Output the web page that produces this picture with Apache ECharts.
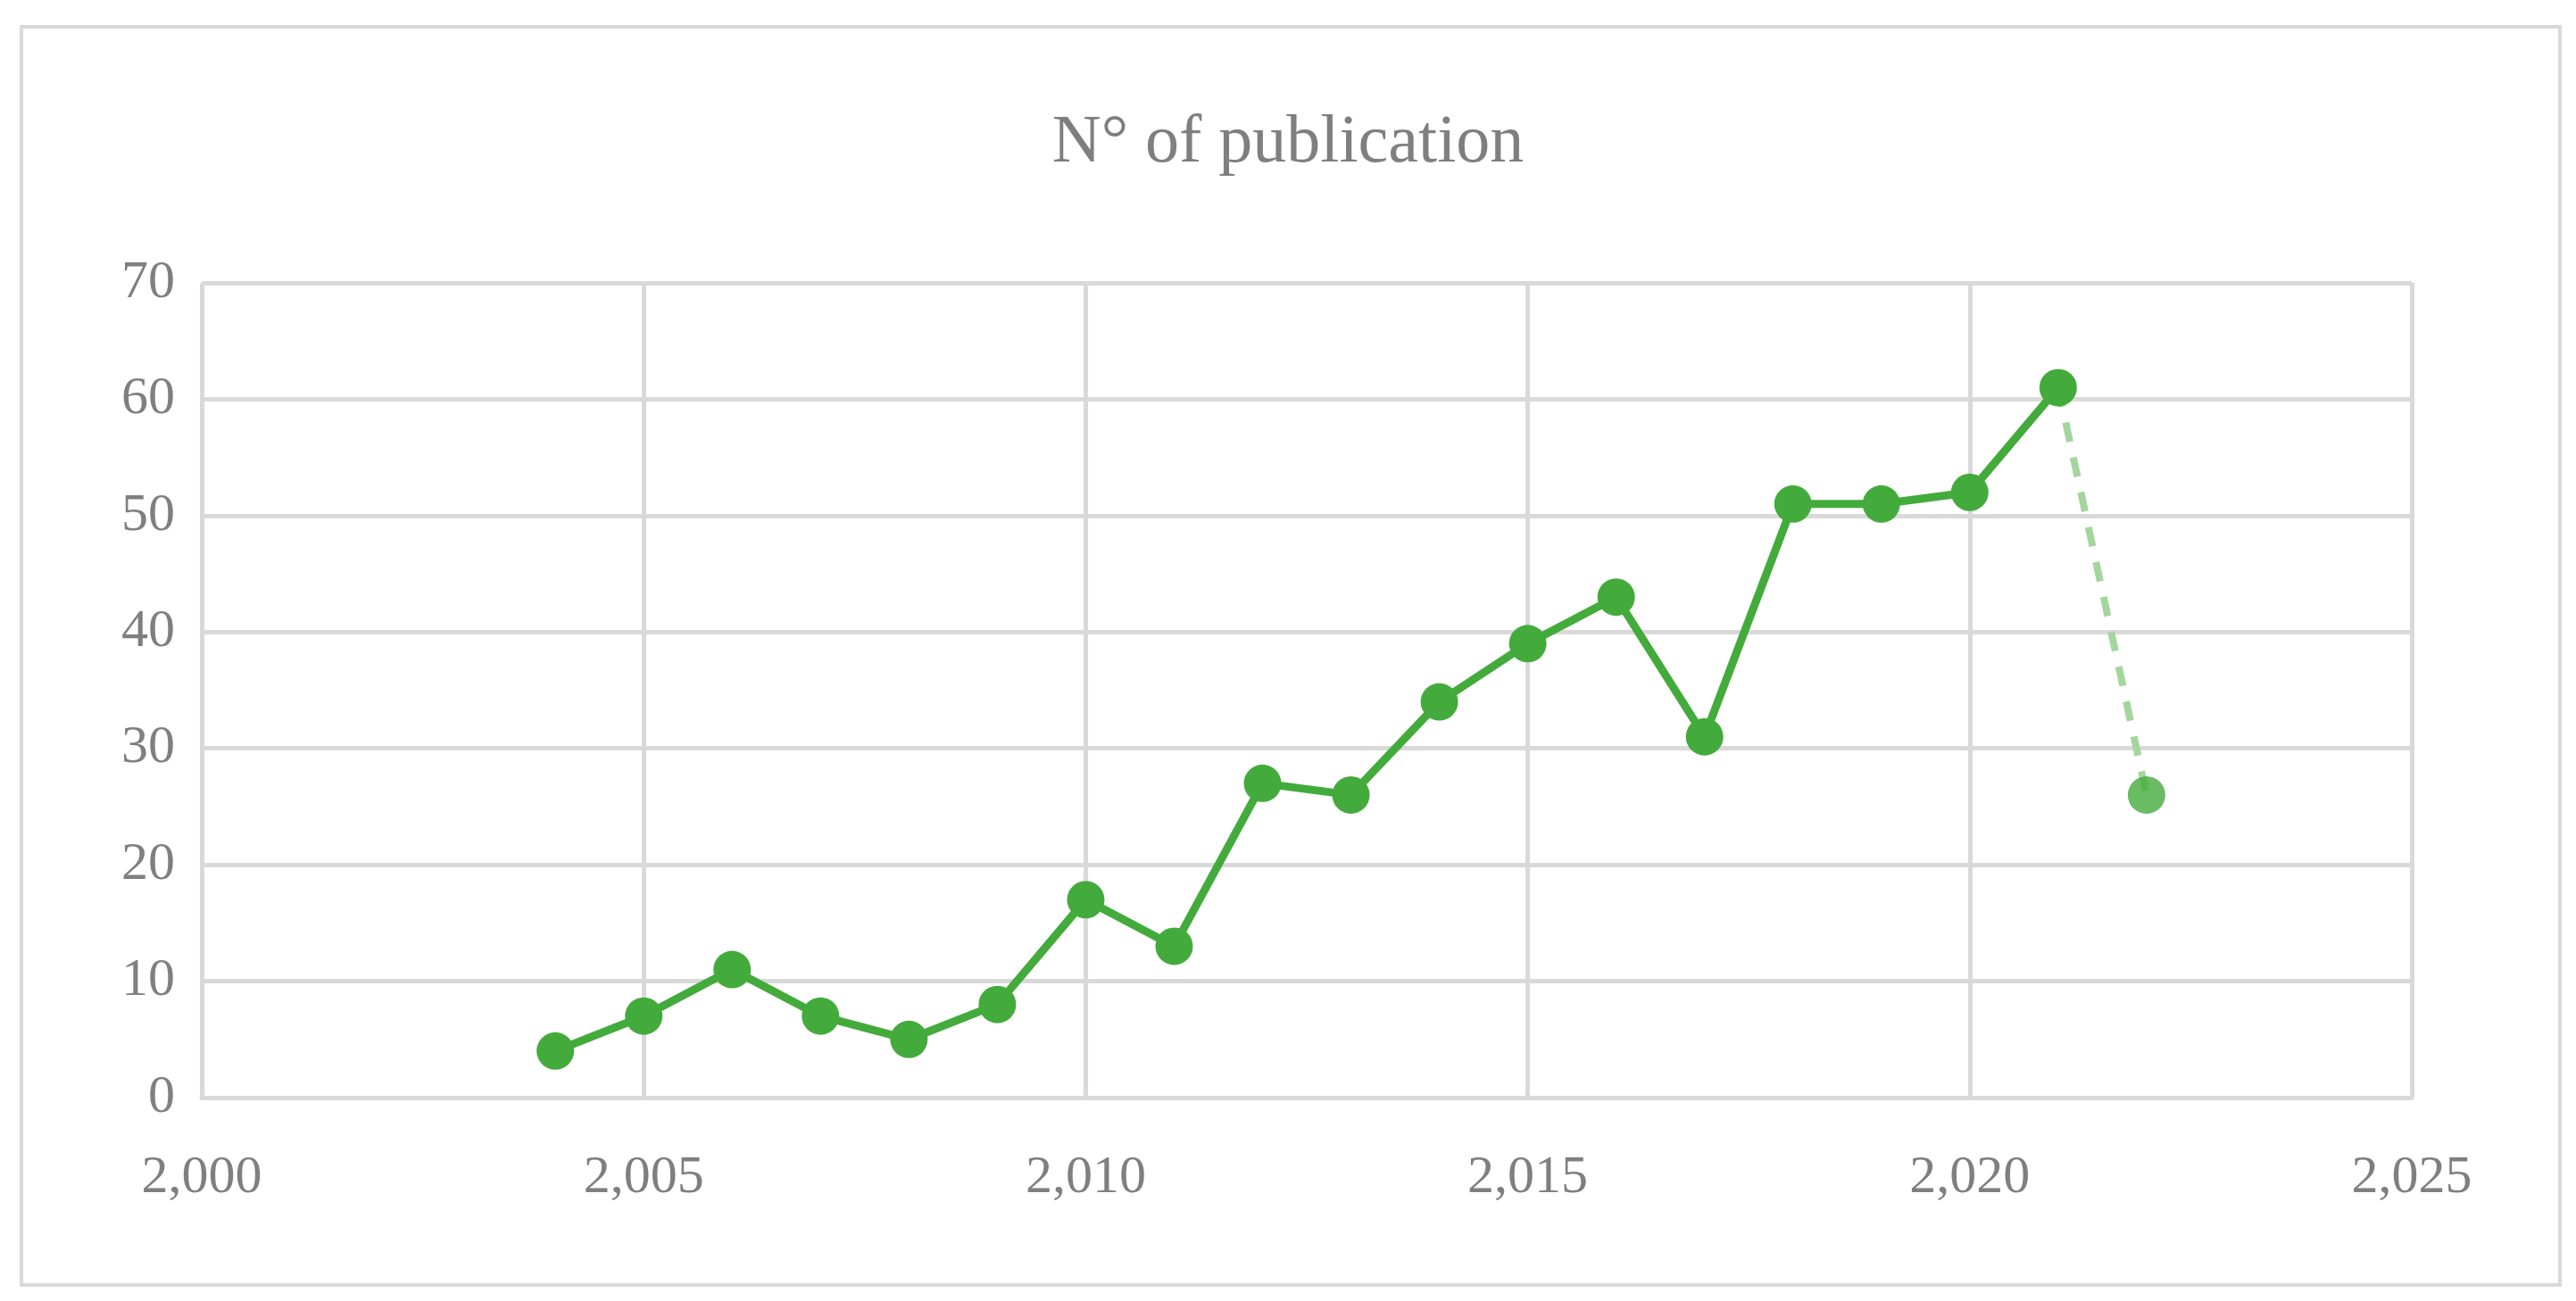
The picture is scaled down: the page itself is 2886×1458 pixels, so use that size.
<!DOCTYPE html>
<html>
<head>
<meta charset="utf-8">
<script src="https://cdn.jsdelivr.net/npm/echarts@6/dist/echarts.min.js"></script>
<style>
  html, body { margin: 0; padding: 0; background: #fff; }
  #chart { width: 2886px; height: 1458px; }
  #frame { position: absolute; left: 22px; top: 28px; width: 2840px; height: 1406px; border: 4px solid #d9d9d9; pointer-events: none; }
</style>
</head>
<body>
<div id="chart"></div>
<div id="frame"></div>
<script>
// publications per year
const years = [2004, 2005, 2006, 2007, 2008, 2009, 2010, 2011, 2012, 2013, 2014, 2015, 2016, 2017, 2018, 2019, 2020, 2021, 2022]
const counts = [4, 7, 11, 7, 5, 8, 17, 13, 27, 26, 34, 39, 43, 31, 51, 51, 52, 61, 26]

const solidPts = years.slice(0, 18).map((y, i) => [y, counts[i]])
const lastPt = [[years[18], counts[18]]]
const dashPts = [[years[17], counts[17]], [years[18], counts[18]]]

const font = '"Liberation Serif", "DejaVu Serif", serif'
const grey = '#7f7f7f'
const gridLine = { show: true, lineStyle: { color: '#d9d9d9', width: 5 } }

const chart = echarts.init(document.getElementById('chart'))
chart.setOption({
    animation: false,
    title: {
        text: 'N° of publication',
        left: 'center',
        top: 118,
        textStyle: { fontFamily: font, fontWeight: 'normal', fontSize: 76, color: grey }
    },
    grid: { left: 226, right: 184, top: 317, bottom: 228 },
    xAxis: {
        type: 'value',
        min: 2000, max: 2025, interval: 5,
        axisLine: { show: true, lineStyle: { color: '#d9d9d9', width: 5 } },
        axisTick: { show: false },
        splitLine: gridLine,
        axisLabel: { fontFamily: font, fontSize: 60, color: grey, margin: 60 }
    },
    yAxis: {
        type: 'value',
        min: 0, max: 70, interval: 10,
        axisLine: { show: false },
        axisTick: { show: false },
        splitLine: gridLine,
        axisLabel: { fontFamily: font, fontSize: 60, color: grey, margin: 30 }
    },
    series: [
        {
            type: 'line', data: dashPts, symbol: 'none',
            lineStyle: { color: '#a3d69d', width: 8, type: [22, 18] }, z: 1
        },
        {
            type: 'line', data: solidPts, symbol: 'circle', symbolSize: 42,
            itemStyle: { color: '#43ab3b' },
            lineStyle: { color: '#43ab3b', width: 9 }, z: 3
        },
        {
            type: 'scatter', data: lastPt, symbol: 'circle', symbolSize: 42,
            itemStyle: { color: '#43ab3b' }, z: 3
        }
    ]
})
</script>
</body>
</html>
